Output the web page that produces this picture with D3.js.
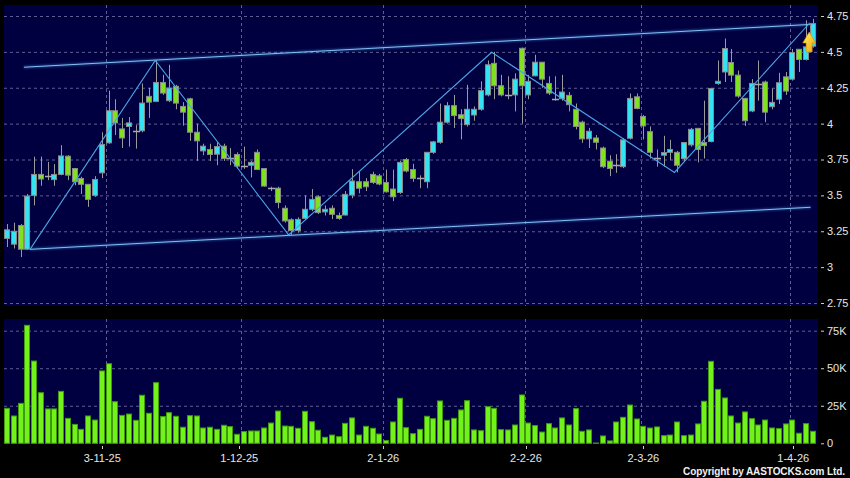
<!DOCTYPE html>
<html><head><meta charset="utf-8">
<script src="https://cdn.jsdelivr.net/npm/d3@7/dist/d3.min.js"></script>
<style>html,body{margin:0;padding:0;background:#000;}svg{display:block;}</style>
</head><body>
<script>
// ---- data ----
const openP  = [3.20,3.16,3.29,3.125,3.50,3.646,3.636,3.61,3.646,3.773,3.687,3.618,3.577,3.50,3.657,3.866,4.09,3.963,3.98,3.947,3.95,4.19,4.155,4.287,4.16,4.26,4.12,4.173,3.94,3.81,3.82,3.787,3.843,3.76,3.785,3.705,3.71,3.80,3.687,3.55,3.55,3.41,3.33,3.255,3.34,3.403,3.49,3.385,3.41,3.36,3.363,3.502,3.595,3.595,3.646,3.636,3.59,3.544,3.52,3.75,3.68,3.618,3.595,3.80,3.87,4.01,4.125,4.062,3.993,4.06,4.10,4.20,4.42,4.264,4.20,4.20,4.525,4.20,4.333,4.428,4.28,4.174,4.174,4.197,4.10,4.01,3.894,3.90,3.83,3.738,3.71,3.70,3.898,4.187,4.05,3.944,3.76,3.78,3.80,3.80,3.757,3.852,3.967,3.868,3.875,4.28,4.36,4.426,4.338,4.176,4.088,4.273,4.29,4.118,4.17,4.326,4.31,4.518,4.447,4.54];
const highP  = [3.30,3.31,3.30,3.51,3.77,3.77,3.733,3.718,3.85,3.78,3.69,3.63,3.58,3.634,3.94,4.23,4.17,4.04,4.046,3.99,4.28,4.25,4.44,4.34,4.41,4.27,4.15,4.18,4.00,3.86,3.86,3.87,3.86,3.83,3.80,3.84,3.74,3.82,3.69,3.56,3.56,3.43,3.34,3.347,3.50,3.544,3.50,3.43,3.43,3.38,3.53,3.683,3.664,3.62,3.665,3.65,3.68,3.68,3.74,3.76,3.72,3.64,3.80,3.88,4.14,4.15,4.20,4.10,4.27,4.12,4.295,4.44,4.50,4.34,4.33,4.35,4.53,4.34,4.48,4.43,4.33,4.33,4.34,4.22,4.14,4.02,3.97,3.92,3.84,3.78,3.787,3.90,4.21,4.21,4.06,3.98,3.82,3.915,3.887,3.81,3.87,3.97,3.97,4.16,4.25,4.44,4.593,4.52,4.37,4.18,4.31,4.44,4.30,4.245,4.354,4.36,4.52,4.52,4.72,4.73];
const lowP   = [3.14,3.13,3.07,3.12,3.43,3.567,3.606,3.567,3.64,3.606,3.57,3.51,3.42,3.49,3.62,3.86,3.92,3.83,3.84,3.826,3.94,4.04,4.15,4.20,4.15,4.10,3.986,3.88,3.74,3.78,3.74,3.71,3.74,3.71,3.69,3.685,3.625,3.68,3.56,3.53,3.41,3.31,3.225,3.24,3.33,3.39,3.37,3.36,3.335,3.33,3.36,3.48,3.514,3.53,3.58,3.57,3.52,3.46,3.51,3.66,3.595,3.55,3.55,3.79,3.86,4.00,3.97,3.89,3.98,4.02,4.09,4.19,4.17,4.19,4.17,4.085,4.00,4.17,4.33,4.25,4.20,4.16,4.16,4.085,3.96,3.866,3.83,3.82,3.69,3.634,3.657,3.69,3.89,4.10,3.89,3.757,3.70,3.70,3.745,3.66,3.74,3.84,3.73,3.757,3.87,4.27,4.29,4.29,4.18,3.984,4.08,4.16,4.01,4.10,4.137,4.20,4.30,4.36,4.44,4.53];
const closeP = [3.26,3.25,3.125,3.495,3.646,3.614,3.636,3.646,3.775,3.641,3.595,3.577,3.472,3.611,3.855,4.09,4.005,3.90,4.005,3.947,4.143,4.15,4.287,4.213,4.248,4.143,4.08,3.94,3.88,3.843,3.785,3.84,3.757,3.76,3.704,3.705,3.73,3.68,3.565,3.55,3.45,3.322,3.255,3.333,3.403,3.472,3.38,3.403,3.368,3.34,3.507,3.60,3.55,3.56,3.59,3.579,3.525,3.49,3.73,3.67,3.618,3.618,3.80,3.873,4.01,4.125,4.056,4.035,4.10,4.10,4.23,4.41,4.264,4.20,4.20,4.31,4.264,4.295,4.428,4.31,4.213,4.174,4.22,4.132,3.98,3.894,3.947,3.87,3.70,3.687,3.71,3.887,4.176,4.106,3.984,3.80,3.76,3.798,3.82,3.71,3.868,3.96,3.82,3.847,4.245,4.295,4.523,4.338,4.192,4.02,4.28,4.273,4.08,4.148,4.285,4.227,4.495,4.447,4.535,4.697];
const volumeK = [23.3,18.2,26.6,78.6,54.8,33.7,22.9,22.9,34.6,16.6,
  12.6,9.3,18.2,15.5,48.2,53.0,27.7,18.6,19.5,15.3,
  32.0,20.0,40.4,17.8,20.4,18.0,10.7,18.4,18.2,10.2,
  10.7,9.3,12.0,11.1,6.0,7.8,8.2,8.2,10.2,13.5,
  21.5,11.5,11.3,10.0,21.3,14.4,8.7,4.0,5.5,4.4,
  13.3,16.9,5.5,11.3,10.0,6.2,1.8,14.2,30.0,10.4,
  6.4,9.3,18.0,16.4,28.2,15.3,16.6,22.2,28.4,8.9,
  8.4,24.4,23.3,9.1,8.9,12.2,32.2,13.5,11.8,7.5,
  13.1,10.2,16.9,12.2,23.1,8.0,8.9,0.2,4.9,1.6,
  14.2,17.3,25.5,16.2,11.3,10.2,10.9,5.1,5.5,14.2,
  5.1,5.5,12.9,28.0,54.6,35.9,30.2,18.2,13.5,20.9,
  16.4,12.2,15.5,10.2,9.8,12.9,15.5,6.7,13.1,8.0];
const dateLabels = ["3-11-25","1-12-25","2-1-26","2-2-26","2-3-26","1-4-26"];
const dateTickIdx = [14.08,34.31,55.58,76.66,93.99,116.14];
const dateGridIdx = [14.58,34.56,55.54,76.5,93.65,115.66];
const priceTicks = [2.75,3,3.25,3.5,3.75,4,4.25,4.5,4.75];
const volTicks = [0,25,50,75];
// trend lines as [index, price]
const upperChannel = [[2.5,4.393],[118.6,4.691]];
const lowerChannel = [[3.4,3.124],[118.7,3.417]];
const zigzag = [[3.4,3.124],[21.9,4.44],[41.6,3.225],[71.6,4.497],[98.6,3.66],[118.6,4.703]];
const arrowAt = [118.5, 4.562];

// ---- layout ----
const W=850,H=478;
const P={x0:4,x1:818,y0:5,y1:306};
const V={x0:4,x1:818,y0:319,y1:444};
const n=closeP.length;
const x=d3.scaleLinear().domain([0,n-1]).range([7,812.6]);
const y=d3.scaleLinear().domain([2.75,4.75]).range([303,16]);
const yv=d3.scaleLinear().domain([0,75]).range([443.3,330.7]);
const bw=6;

const svg=d3.select("body").append("svg").attr("width",W).attr("height",H).style("background","#000");
const defs=svg.append("defs");
const g1=defs.append("linearGradient").attr("id","arrowG").attr("x1",0).attr("y1",0).attr("x2",1).attr("y2",1);
g1.append("stop").attr("offset","0%").attr("stop-color","#fff36a");
g1.append("stop").attr("offset","100%").attr("stop-color","#f2a100");
defs.append("filter").attr("id","glow").append("feGaussianBlur").attr("stdDeviation",1);

svg.append("rect").attr("x",P.x0).attr("y",P.y0).attr("width",P.x1-P.x0).attr("height",P.y1-P.y0).attr("fill","#000040");
svg.append("rect").attr("x",V.x0).attr("y",V.y0).attr("width",V.x1-V.x0).attr("height",V.y1-V.y0).attr("fill","#000040");

const gridC="#5e5e92";
svg.append("g").selectAll("line").data(priceTicks).join("line")
  .attr("x1",P.x0).attr("x2",P.x1).attr("y1",d=>y(d)+0.5).attr("y2",d=>y(d)+0.5)
  .attr("stroke",gridC).attr("stroke-dasharray","3,3");
svg.append("g").selectAll("line").data(volTicks.filter(d=>d>0)).join("line")
  .attr("x1",V.x0).attr("x2",V.x1).attr("y1",d=>yv(d)+0.5).attr("y2",d=>yv(d)+0.5)
  .attr("stroke",gridC).attr("stroke-dasharray","3,3");
[P,V].forEach(R=>{
  svg.append("g").selectAll("line").data(dateGridIdx).join("line")
    .attr("x1",d=>Math.round(x(d))+0.5).attr("x2",d=>Math.round(x(d))+0.5).attr("y1",R.y0).attr("y2",R.y1)
    .attr("stroke",gridC).attr("stroke-dasharray","3,3");
});

// candles
const idx=d3.range(n);
const colorOf=i=> closeP[i]>openP[i] ? "#33e3f2" : (closeP[i]<openP[i] ? "#80e11e" : "#a0a0a0");
const cg=svg.append("g");
cg.selectAll("line.w").data(idx).join("line").attr("class","w")
  .attr("x1",i=>Math.round(x(i))+0.5).attr("x2",i=>Math.round(x(i))+0.5)
  .attr("y1",i=>y(highP[i])).attr("y2",i=>y(lowP[i]))
  .attr("stroke","#9a9a9a").attr("stroke-width",1);
cg.selectAll("rect.b").data(idx.filter(i=>closeP[i]!==openP[i])).join("rect").attr("class","b")
  .attr("x",i=>Math.round(x(i))-2.5).attr("width",bw-1)
  .attr("y",i=>y(Math.max(openP[i],closeP[i])))
  .attr("height",i=>Math.max(1,Math.abs(y(openP[i])-y(closeP[i]))))
  .attr("fill",colorOf).attr("stroke","#8a8a8a").attr("stroke-width",1);
cg.selectAll("line.d").data(idx.filter(i=>closeP[i]===openP[i])).join("line").attr("class","d")
  .attr("x1",i=>Math.round(x(i))-3).attr("x2",i=>Math.round(x(i))+4)
  .attr("y1",i=>Math.round(y(closeP[i]))+0.5).attr("y2",i=>Math.round(y(closeP[i]))+0.5)
  .attr("stroke","#a8a8a8").attr("stroke-width",1.5);

// trend lines
const ln=d3.line().x(d=>x(d[0])).y(d=>y(d[1]));
[upperChannel,lowerChannel].forEach(L=>{
  svg.append("path").attr("d",ln(L)).attr("fill","none").attr("stroke","#3f8fdc").attr("stroke-width",2.5).attr("opacity",0.45).attr("filter","url(#glow)");
  svg.append("path").attr("d",ln(L)).attr("fill","none").attr("stroke","#86bff0").attr("stroke-width",1);
});
svg.append("path").attr("d",ln(zigzag)).attr("fill","none").attr("stroke","#4aa3e6").attr("stroke-width",1.1);

// arrow
const ax=x(arrowAt[0]), ay=y(arrowAt[1]);
const ar=d3.path();
ar.moveTo(ax,ay-11); ar.lineTo(ax+6.5,ay); ar.lineTo(ax+3,ay); ar.lineTo(ax+3,ay+9);
ar.lineTo(ax-3,ay+9); ar.lineTo(ax-3,ay); ar.lineTo(ax-6.5,ay); ar.closePath();
svg.append("path").attr("d",ar.toString()).attr("fill","url(#arrowG)").attr("stroke","#d48a00").attr("stroke-width",0.6);

// volume bars
svg.append("g").selectAll("rect").data(idx).join("rect")
  .attr("x",i=>Math.round(x(i))-2.5).attr("width",bw-1)
  .attr("y",i=>yv(volumeK[i])).attr("height",i=>Math.max(0,yv(0)-yv(volumeK[i])))
  .attr("fill","#72f21a").attr("stroke","#3f9a10").attr("stroke-width",1);

// right axes
const font="'Liberation Sans', Arial, sans-serif";
const ra=svg.append("g").attr("font-family",font).attr("font-size",11).attr("fill","#e6e6e6");
ra.selectAll("line.p").data(priceTicks).join("line").attr("class","p")
  .attr("x1",821).attr("x2",824).attr("y1",d=>y(d)+0.5).attr("y2",d=>y(d)+0.5).attr("stroke","#cfcfcf");
ra.selectAll("text.p").data(priceTicks).join("text").attr("class","p")
  .attr("x",827).attr("y",d=>y(d)).attr("dy","0.36em").text(d=>String(d));
ra.selectAll("line.v").data(volTicks).join("line").attr("class","v")
  .attr("x1",821).attr("x2",824).attr("y1",d=>yv(d)+0.5).attr("y2",d=>yv(d)+0.5).attr("stroke","#cfcfcf");
ra.selectAll("text.v").data(volTicks).join("text").attr("class","v")
  .attr("x",827).attr("y",d=>yv(d)).attr("dy","0.36em").text(d=>d===0?"0":d+"K");

// x axis labels
const xa=svg.append("g").attr("font-family",font).attr("font-size",11).attr("fill","#e6e6e6");
xa.selectAll("line").data(dateTickIdx).join("line")
  .attr("x1",d=>Math.round(x(d))+0.5).attr("x2",d=>Math.round(x(d))+0.5).attr("y1",446).attr("y2",449).attr("stroke","#cfcfcf");
xa.selectAll("text").data(dateTickIdx).join("text")
  .attr("x",d=>x(d)).attr("y",462).attr("text-anchor","middle").text((d,i)=>dateLabels[i]);

svg.append("text").attr("x",683).attr("y",475).attr("font-family",font).attr("font-size",10).attr("font-weight","bold")
  .attr("fill","#f0f0f0").attr("textLength",162).attr("lengthAdjust","spacing").text("Copyright by AASTOCKS.com Ltd.");
</script>
</body></html>
